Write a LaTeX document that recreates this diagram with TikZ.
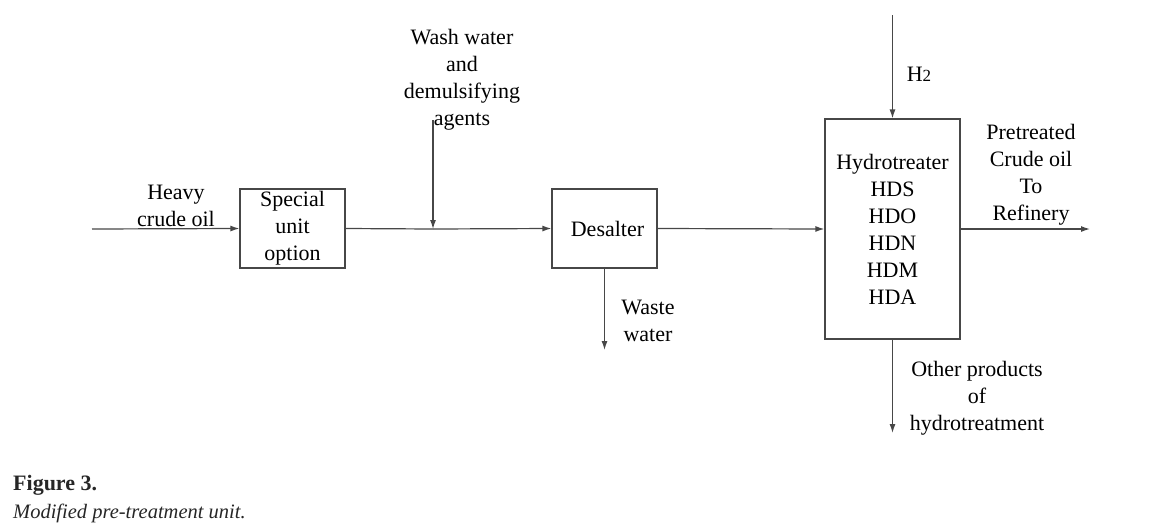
\documentclass[tikz,border=0pt]{standalone}
\usepackage{fontspec}
\setmainfont{Liberation Serif}
\usetikzlibrary{arrows.meta}
\begin{document}
\begin{tikzpicture}[x=1pt,y=-1pt,
  flow/.style={draw=black!72,line width=1.2pt,-{Latex[length=9pt,width=6pt]}},
  line/.style={draw=black!72,line width=1.2pt},
  unitbox/.style={draw=black!72,line width=1.2pt,align=center,inner sep=0pt,
    font=\fontsize{22}{27}\selectfont},
  lbl/.style={align=center,inner sep=0pt,font=\fontsize{22}{27}\selectfont}]
\useasboundingbox (0,0) rectangle (1165,531);
% units
\node[unitbox,minimum width=105pt,minimum height=79pt] (special) at (292.5,228.5) {\raisebox{-3pt}{\parbox{100pt}{\centering Special\\unit\\option}}};
\node[unitbox,minimum width=105pt,minimum height=79pt] (desalter) at (604.5,228.5) {\hspace*{6pt}Desalter};
\node[unitbox,minimum width=135pt,minimum height=220pt] (hydro) at (892.5,229) {\raisebox{-1.5pt}{\parbox{130pt}{\centering Hydrotreater\\HDS\\HDO\\HDN\\HDM\\HDA}}};
% free ends
\coordinate (in) at (92,229);
\coordinate (washtop) at (433,120);
\coordinate (junc) at (433,229);
\coordinate (wasteend) at (604.5,350);
\coordinate (htop) at (892.5,15);
\coordinate (out) at (1090,229);
\coordinate (otherend) at (892.5,433);
% connectors
\draw[flow] (in) -- (special.west);
\draw[line] (special.east) -- (junc);
\draw[flow] (junc) -- (desalter.west);
\draw[flow] (washtop) -- (junc);
\draw[flow] (desalter.south) -- (wasteend);
\draw[flow] (desalter.east) -- (hydro.west);
\draw[flow] (htop) -- (hydro.north);
\draw[flow] (hydro.east) -- (out);
\draw[flow] (hydro.south) -- (otherend);
% labels
\node[lbl] (lheavy) at (176,205.5) {Heavy\\crude oil};
\node[lbl] (lwash) at (462,80) {Wash water\\and\\demulsifying\\agents};
\node[lbl] (lwaste) at (648,321) {Waste\\water};
\node[lbl] (lh2) at (919,74) {H{\fontsize{17}{17}\selectfont 2}};
\node[lbl] (lpre) at (1031,175) {Pretreated\\Crude oil\\To\\Refinery};
\node[lbl] (lother) at (977,398.5) {Other products\\of\\hydrotreatment};
% caption
\node[anchor=base west,inner sep=0pt,font=\fontsize{22}{22}\selectfont\bfseries,text=black!85] (cap1) at (13,490) {Figure 3.};
\node[anchor=base west,inner sep=0pt,font=\fontsize{20.5}{22}\selectfont\itshape,text=black!85] (cap2) at (13,518) {Modified pre-treatment unit.};
\end{tikzpicture}
\end{document}
